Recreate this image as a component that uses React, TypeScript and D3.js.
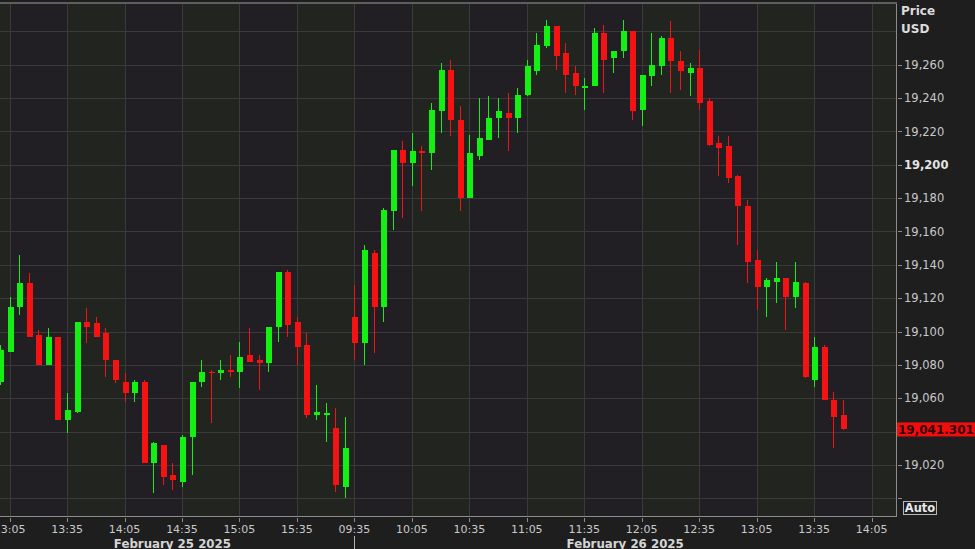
import React from 'react';
import * as d3 from 'd3';

const W = 975;
const H = 549;
const plotRight = 896;
const plotTop = 3;
const plotBottom = 516;

// 5-minute sessions shown on the chart
const sessions = [
  { date: 'February 25 2025', start: '13:00', candles: 36 },
  { date: 'February 26 2025', start: '09:30', candles: 53 },
];

const openP = [
  19070, 19088, 19115, 19129, 19098, 19080, 19097, 19047, 19052, 19106,
  19105, 19099, 19083, 19070, 19063, 19070, 19021, 19032, 19014, 19010,
  19037, 19070, 19076, 19075, 19077, 19076, 19086, 19083, 19081, 19103,
  19136, 19106, 19092, 19050, 19050, 19042, 19007, 19109, 19093, 19147,
  19115, 19172, 19209, 19201, 19208, 19207, 19232, 19257, 19227, 19180,
  19205, 19215, 19228, 19231, 19228, 19242, 19256, 19271, 19283, 19267,
  19255, 19246, 19247, 19279, 19264, 19268, 19280, 19233, 19253, 19259,
  19276, 19262, 19255, 19258, 19238, 19213, 19211, 19193, 19175, 19143,
  19127, 19130, 19132, 19121, 19129, 19071, 19091, 19059, 19050,
];
const highP = [
  19092, 19121, 19146, 19135, 19101, 19102, 19097, 19063, 19106, 19114,
  19109, 19102, 19083, 19075, 19071, 19071, 19034, 19032, 19021, 19038,
  19070, 19083, 19077, 19083, 19086, 19094, 19102, 19086, 19103, 19136,
  19137, 19109, 19099, 19068, 19057, 19054, 19049, 19128, 19152, 19149,
  19174, 19209, 19214, 19219, 19211, 19237, 19261, 19263, 19235, 19218,
  19240, 19241, 19240, 19243, 19246, 19263, 19279, 19287, 19283, 19273,
  19259, 19252, 19282, 19284, 19268, 19287, 19280, 19254, 19279, 19277,
  19286, 19268, 19261, 19269, 19240, 19217, 19217, 19194, 19179, 19149,
  19132, 19142, 19132, 19142, 19130, 19097, 19092, 19064, 19059,
];
const lowP = [
  19068, 19088, 19110, 19097, 19080, 19080, 19047, 19039, 19051, 19093,
  19097, 19073, 19069, 19058, 19058, 19021, 19003, 19008, 19005, 19007,
  19014, 19067, 19045, 19071, 19073, 19066, 19082, 19065, 19076, 19094,
  19097, 19080, 19048, 19047, 19034, 19004, 19000, 19083, 19080, 19087,
  19106, 19161, 19168, 19187, 19172, 19197, 19219, 19217, 19172, 19180,
  19203, 19215, 19216, 19208, 19219, 19241, 19254, 19270, 19257, 19243,
  19242, 19233, 19247, 19243, 19255, 19264, 19227, 19223, 19247, 19254,
  19243, 19245, 19241, 19233, 19211, 19193, 19189, 19152, 19129, 19113,
  19109, 19117, 19101, 19114, 19072, 19067, 19059, 19030, 19041,
];
const closeP = [
  19089, 19115, 19129, 19097, 19080, 19097, 19047, 19053, 19106, 19103,
  19097, 19083, 19071, 19063, 19070, 19021, 19033, 19013, 19011, 19037,
  19070, 19076, 19075, 19077, 19076, 19085, 19082, 19081, 19103, 19136,
  19104, 19091, 19050, 19052, 19051, 19008, 19030, 19093, 19149, 19115,
  19173, 19209, 19201, 19208, 19207, 19233, 19257, 19227, 19180, 19207,
  19216, 19228, 19232, 19228, 19242, 19259, 19272, 19283, 19265, 19254,
  19247, 19247, 19279, 19263, 19268, 19280, 19232, 19254, 19260, 19276,
  19262, 19256, 19258, 19237, 19212, 19210, 19192, 19175, 19142, 19127,
  19131, 19132, 19121, 19130, 19073, 19091, 19059, 19049, 19041.301,
];

const gridPrices = [19000, 19020, 19040, 19060, 19080, 19100, 19120, 19140, 19160, 19180, 19200, 19220, 19240, 19260, 19280];
const tickPrices = [19000, 19020, 19040, 19060, 19080, 19100, 19120, 19140, 19160, 19180, 19200, 19220, 19240, 19260];
const labelPrices = [19020, 19060, 19080, 19100, 19120, 19140, 19160, 19180, 19200, 19220, 19240, 19260];
const boldPrice = 19200;
const lastPrice = 19041.301;

const UP = '#14f014';
const DOWN = '#f41212';
const TEXT = '#c9c9c9';
const GRID = '#3a3a3a';
const BANDS = ['#222420', '#211f23'];
const FONT = '"DejaVu Sans", Verdana, sans-serif';

const parseHM = d3.timeParse('%H:%M');
const fmtHM = d3.timeFormat('%H:%M');

// one slot per 5-minute candle, the last session padded past the data for the axis
const slots: { t: Date; day: number }[] = [];
sessions.forEach((s, di) => {
  const n = di === sessions.length - 1 ? s.candles + 5 : s.candles;
  const t0 = parseHM(s.start) as Date;
  for (let k = 0; k < n; k++) slots.push({ t: d3.timeMinute.offset(t0, 5 * k), day: di });
});

const App = () => {
  const x = d3.scaleLinear().domain([0, 93.55]).range([0, plotRight]);
  const y = d3.scaleLinear().domain([18989.4, 19297]).range([plotBottom, plotTop]);
  const fmtPrice = d3.format(',');

  const timeTicks = slots
    .map((s, i) => ({ i, s }))
    .filter(d => d.s.t.getMinutes() % 30 === 5 && x(d.i) < plotRight);

  const firstOfDay = sessions.map((_, di) => slots.findIndex(s => s.day === di));
  const dayEdge = timeTicks.find(d => d.s.day === 1)!.i;
  const dayCenters = [(0 + x(firstOfDay[1])) / 2, (x(dayEdge) + plotRight) / 2];

  // alternating column shading between the time gridlines
  const edges = [0, ...timeTicks.map(d => Math.round(x(d.i)) + 0.5), plotRight];
  const bands = d3.pairs(edges);

  const bodyW = 6;

  return (
    <svg width={W} height={H} style={{ position: 'absolute', left: 0, top: 0, display: 'block' }}
      fontFamily={FONT}>
      <rect x={0} y={0} width={W} height={H} fill="#1e1e1f" />
      <g shapeRendering="crispEdges">
        {bands.map(([a, b], k) => (
          <rect key={k} x={a} y={plotTop} width={b - a} height={plotBottom - plotTop} fill={BANDS[k % 2]} />
        ))}
      </g>

      <g stroke={GRID} strokeWidth={1} shapeRendering="crispEdges">
        {gridPrices.map(p => (
          <line key={p} x1={0} x2={plotRight} y1={Math.round(y(p)) + 0.5} y2={Math.round(y(p)) + 0.5} />
        ))}
        {timeTicks.map(d => (
          <line key={d.i} x1={Math.round(x(d.i)) + 0.5} x2={Math.round(x(d.i)) + 0.5} y1={plotTop} y2={plotBottom} />
        ))}
      </g>

      <g shapeRendering="crispEdges">
        {openP.map((o, i) => {
          const c = closeP[i];
          const col = c >= o ? UP : DOWN;
          const cx = Math.round(x(i));
          const top = y(Math.max(o, c));
          const h = Math.max(1.5, Math.abs(y(o) - y(c)));
          return (
            <g key={i}>
              <line x1={cx + 0.5} x2={cx + 0.5} y1={y(highP[i])} y2={y(lowP[i])} stroke={col} strokeWidth={1} />
              <rect x={cx - bodyW / 2 + 0.5} y={top} width={bodyW} height={h} fill={col} />
            </g>
          );
        })}
      </g>

      <g stroke="#8c8c8c" strokeWidth={1} shapeRendering="crispEdges">
        <line x1={0} x2={plotRight + 0.5} y1={plotBottom + 0.5} y2={plotBottom + 0.5} />
        <line x1={plotRight + 0.5} x2={plotRight + 0.5} y1={plotTop} y2={plotBottom + 0.5} />
        <line x1={0} x2={plotRight + 0.5} y1={plotTop - 0.5} y2={plotTop - 0.5} stroke="#5e5e5e" strokeWidth={2} />
        {tickPrices.map(p => (
          <line key={p} x1={plotRight + 2} x2={plotRight + 6} y1={Math.round(y(p)) + 0.5} y2={Math.round(y(p)) + 0.5} />
        ))}
        {timeTicks.map(d => (
          <line key={d.i} x1={Math.round(x(d.i)) + 0.5} x2={Math.round(x(d.i)) + 0.5} y1={plotBottom + 2} y2={plotBottom + 6} />
        ))}
        <line x1={Math.round(x(dayEdge)) + 0.5} x2={Math.round(x(dayEdge)) + 0.5} y1={536} y2={H} stroke="#b0b0b0" />
      </g>

      <g fill={TEXT} fontSize={11.5}>
        {labelPrices.map(p => (
          <text key={p} x={plotRight + 8} y={y(p)} dy="0.36em"
            fontWeight={p === boldPrice ? 'bold' : 'normal'}
            fill={p === boldPrice ? '#e4e4e4' : TEXT}>
            {fmtPrice(p)}
          </text>
        ))}
      </g>

      <g fill="#dcdcdc" fontSize={12} fontWeight="bold">
        <text x={plotRight + 5} y={15}>Price</text>
        <text x={plotRight + 5} y={33}>USD</text>
      </g>

      <g fill={TEXT} fontSize={11} textAnchor="middle">
        {timeTicks.map(d => (
          <text key={d.i} x={x(d.i)} y={533}>{fmtHM(d.s.t)}</text>
        ))}
      </g>
      <g fill="#d4d4d4" fontSize={11.8} fontWeight="bold" textAnchor="middle">
        {sessions.map((s, di) => (
          <text key={s.date} x={dayCenters[di]} y={547.5}>{s.date}</text>
        ))}
      </g>

      <rect x={plotRight + 1} y={y(lastPrice) - 7} width={W - plotRight - 1} height={14} fill="#f20d0d" />
      <text x={plotRight + 2} y={y(lastPrice)} dy="0.36em" fontSize={12} fontWeight="bold" fill="#2e0000">
        {d3.format(',.3f')(lastPrice)}
      </text>

      <rect x={903.5} y={501.5} width={33} height={13} fill="#1e1e1f" stroke="#b8b8b8" strokeWidth={1} />
      <text x={920} y={508} dy="0.36em" textAnchor="middle" fontSize={11.5} fontWeight="bold" fill="#e8e8e8">Auto</text>
    </svg>
  );
};

export default App;
